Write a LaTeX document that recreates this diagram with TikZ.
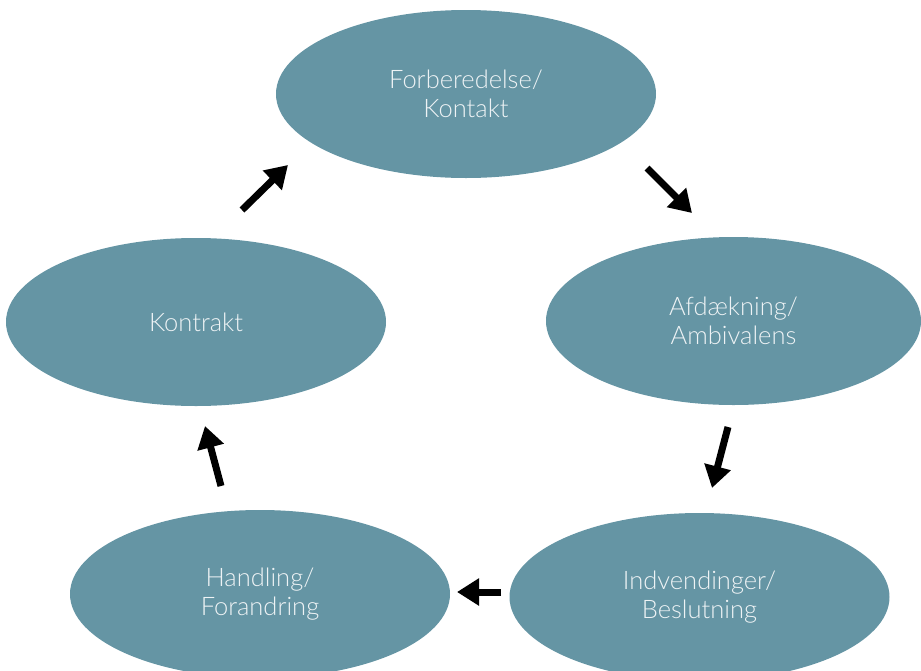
\documentclass[tikz,border=0pt]{standalone}
\usepackage{fontspec}
\setmainfont{Lato Light}
\usetikzlibrary{shapes.geometric,arrows.meta}
\definecolor{stage}{HTML}{6595A4}
\definecolor{stagetext}{HTML}{EEF3F5}
\tikzset{
  stagebox/.style={ellipse, fill=stage, draw=none, inner sep=0pt,
    minimum width=380pt, minimum height=168pt, align=center,
    text=stagetext, font=\fontsize{25.5}{29}\selectfont},
  flow/.style={line width=7pt, -{Triangle[length=22pt,width=26pt]}}
}
\begin{document}
\begin{tikzpicture}[x=1pt,y=-1pt]
  \useasboundingbox (0,0) rectangle (921,670);
  \clip (0,0) rectangle (921,670);

  % cycle stages
  \node[stagebox] (prep)   at (466,94)  {Forberedelse/\\Kontakt};
  \node[stagebox, minimum width=375pt] (amb) at (733.5,321) {Afdækning/\\Ambivalens};
  \node[stagebox] (dec)    at (699.5,597) {Indvendinger/\\Beslutning};
  \node[stagebox] (act)    at (260,594) {Handling/\\Forandring};
  \node[stagebox] (con)    at (196,322) {Kontrakt};

  % arrow end points between the stages
  \coordinate (a1s) at (647,168); \coordinate (a1e) at (692,213);
  \coordinate (a2s) at (728,427); \coordinate (a2e) at (712,488);
  \coordinate (a3s) at (501,592); \coordinate (a3e) at (457,592);
  \coordinate (a4s) at (221,486); \coordinate (a4e) at (205,426);
  \coordinate (a5s) at (242,210); \coordinate (a5e) at (288,165);

  \draw[flow] (a1s) -- (a1e);
  \draw[flow] (a2s) -- (a2e);
  \draw[flow] (a3s) -- (a3e);
  \draw[flow] (a4s) -- (a4e);
  \draw[flow] (a5s) -- (a5e);
\end{tikzpicture}
\end{document}
